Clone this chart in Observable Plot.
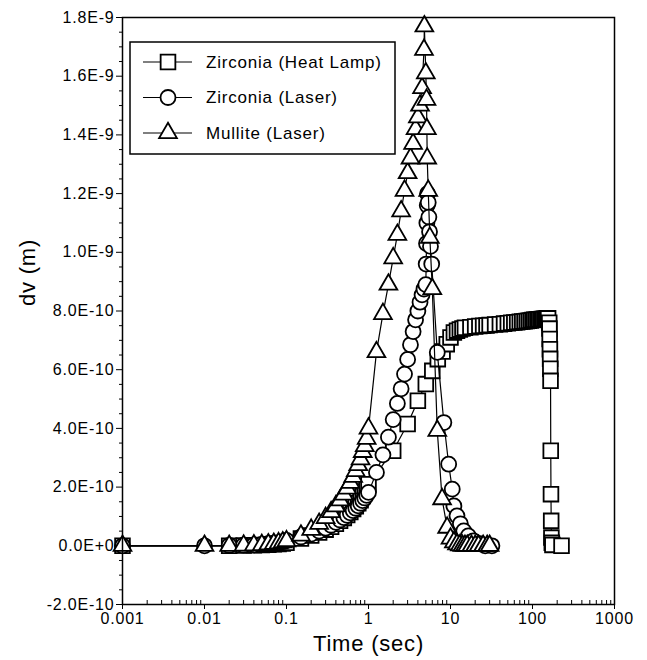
<!DOCTYPE html>
<html><head><meta charset="utf-8">
<script src="https://cdn.jsdelivr.net/npm/d3@7"></script>
<script src="https://cdn.jsdelivr.net/npm/@observablehq/plot@0.6"></script>
<style>
html,body{margin:0;padding:0;background:#fff;}
#chart svg text{letter-spacing:0.8px;}
</style></head><body><div id="chart"></div>
<script>
// ---- Data (time in s, dv in m) ----
const seriesNames = ["Zirconia (Heat Lamp)", "Zirconia (Laser)", "Mullite (Laser)"];

const lampTime = [0.001, 0.02, 0.03, 0.04, 0.05, 0.06, 0.07, 0.08, 0.09, 0.1,
  0.15, 0.2, 0.25, 0.3, 0.35, 0.4, 0.45, 0.5, 0.55, 0.6, 0.65, 0.7, 0.75, 0.8, 0.85, 0.9, 0.95,
  1, 2, 3, 4, 5, 6, 7, 8, 9, 10, 11, 12, 13, 14, 15, 17.5, 20, 22.5, 25, 27.5, 30,
  35, 40, 45, 50, 55, 60, 65, 70, 75, 80, 85, 90, 95, 100, 105, 110, 115, 120, 125, 130, 135, 140, 145, 150, 155,
  160, 161, 162, 163, 164, 165, 166, 167, 168, 169, 170, 172, 175, 226];
const lampDv = [0, 0, 1e-12, 2e-12, 3e-12, 4e-12, 5e-12, 6e-12, 8e-12, 1e-11,
  2.5e-11, 3.5e-11, 4.5e-11, 5.5e-11, 6.5e-11, 7.5e-11, 8.5e-11, 9.5e-11, 1.05e-10, 1.15e-10, 1.25e-10, 1.35e-10, 1.45e-10, 1.55e-10, 1.7e-10, 1.85e-10, 1.98e-10,
  2.1e-10, 3.24e-10, 4.15e-10, 4.94e-10, 5.51e-10, 5.96e-10, 6.36e-10, 6.62e-10, 6.87e-10, 7.1e-10, 7.27e-10, 7.33e-10, 7.37e-10, 7.4e-10, 7.43e-10, 7.45e-10, 7.47e-10, 7.49e-10, 7.5e-10, 7.51e-10, 7.52e-10,
  7.54e-10, 7.55e-10, 7.57e-10, 7.58e-10, 7.6e-10, 7.61e-10, 7.62e-10, 7.63e-10, 7.64e-10, 7.65e-10, 7.66e-10, 7.67e-10, 7.68e-10, 7.69e-10, 7.7e-10, 7.7e-10, 7.71e-10, 7.72e-10, 7.72e-10, 7.73e-10, 7.73e-10, 7.74e-10, 7.74e-10, 7.75e-10, 7.75e-10,
  7.6e-10, 7.4e-10, 7.05e-10, 6.7e-10, 6.37e-10, 6.03e-10, 5.62e-10, 3.24e-10, 1.76e-10, 8.5e-11, 2.8e-11, 1e-11, 3e-12, 0];

const laserTime = [0.001, 0.01, 0.02, 0.03, 0.04, 0.05, 0.06, 0.07, 0.08, 0.09, 0.1,
  0.15, 0.2, 0.25, 0.3, 0.35, 0.4, 0.45, 0.5, 0.55, 0.6, 0.65, 0.7, 0.75, 0.8, 0.85, 0.9, 0.95, 1.0,
  1.25, 1.5, 1.75, 2.0, 2.25, 2.5, 2.75, 3.0, 3.25, 3.5, 3.75, 4.0, 4.25, 4.5, 4.75, 5.0,
  5.05, 5.1, 5.15, 5.2, 5.25,
  5.35, 5.45, 5.55, 5.7, 5.9, 6.9, 8.3, 9.5, 10.5, 11, 12, 13.2, 14.5, 16.5, 19, 23, 26.5, 32];
const laserDv = [0, 0, 1e-12, 2e-12, 3e-12, 5e-12, 7e-12, 9e-12, 1.1e-11, 1.4e-11, 1.8e-11,
  3.0e-11, 4.0e-11, 5.0e-11, 6.0e-11, 7.0e-11, 8.0e-11, 8.8e-11, 9.6e-11, 1.04e-10, 1.12e-10, 1.2e-10, 1.28e-10, 1.36e-10, 1.45e-10, 1.54e-10, 1.63e-10, 1.72e-10, 1.82e-10,
  2.5e-10, 3.1e-10, 3.7e-10, 4.3e-10, 4.85e-10, 5.35e-10, 5.85e-10, 6.35e-10, 6.85e-10, 7.3e-10, 7.7e-10, 8.0e-10, 8.3e-10, 8.55e-10, 8.75e-10, 8.9e-10,
  9.6e-10, 1.03e-9, 1.1e-9, 1.16e-9, 1.2e-9,
  1.17e-9, 1.12e-9, 1.07e-9, 1.02e-9, 9.6e-10, 6.59e-10, 4.2e-10, 2.78e-10, 1.93e-10, 1.36e-10, 1.02e-10, 7.5e-11, 5.1e-11, 3.4e-11, 1.7e-11, 7e-12, 0, 0];

const mulliteTime = [0.001, 0.01, 0.02, 0.03, 0.04, 0.05, 0.06, 0.07, 0.08, 0.09, 0.1,
  0.15, 0.2, 0.25, 0.3, 0.35, 0.4, 0.45, 0.5, 0.55, 0.6, 0.65, 0.7, 0.75, 0.8, 0.85, 0.9, 0.95, 1.0,
  1.25, 1.5, 1.75, 2.0, 2.25, 2.5, 2.75, 3.0, 3.25, 3.5, 3.75, 4.0, 4.25, 4.5, 4.75, 4.8,
  5.0, 5.1, 5.15, 5.2, 5.35, 5.6, 6.0, 6.9, 7.9, 9.1, 10, 11, 12, 13, 14, 15, 16, 18, 20, 22, 25, 28, 30];
const mulliteDv = [0, 0, 0, 1e-12, 2e-12, 3e-12, 5e-12, 7e-12, 9e-12, 1.2e-11, 1.6e-11,
  3.5e-11, 5.5e-11, 7.5e-11, 9.5e-11, 1.15e-10, 1.35e-10, 1.55e-10, 1.75e-10, 1.95e-10, 2.15e-10, 2.35e-10, 2.55e-10, 2.75e-10, 2.95e-10, 3.2e-10, 3.4e-10, 3.65e-10, 4.0e-10,
  6.6e-10, 7.9e-10, 8.9e-10, 9.8e-10, 1.06e-9, 1.14e-9, 1.21e-9, 1.27e-9, 1.32e-9, 1.37e-9, 1.42e-9, 1.46e-9, 1.5e-9, 1.56e-9, 1.69e-9, 1.77e-9,
  1.61e-9, 1.52e-9, 1.42e-9, 1.32e-9, 1.21e-9, 1.05e-9, 8.75e-10, 3.92e-10, 1.59e-10, 6.2e-11, 2.5e-11, 1.2e-11, 5e-12, 2e-12, 0, 0, 0, 0, 0, 0, 0, 0, 0];

// ---- Tick labels ----
const xTicks = [0.001, 0.01, 0.1, 1, 10, 100, 1000];
const yTicks = [-2e-10, 0, 2e-10, 4e-10, 6e-10, 8e-10, 1e-9, 1.2e-9, 1.4e-9, 1.6e-9, 1.8e-9];

const xMinor = [];
xTicks.slice(0, -1).forEach(d => { for (let k = 2; k <= 9; k++) xMinor.push(d * k); });
const yMinor = d3.range(-40, 361, 10).map(k => k * 5e-12).filter(v => !yTicks.some(t => Math.abs(t - v) < 1e-13));

const zip = (ts, vs) => ts.map((t, i) => ({t, v: vs[i]}));
const lamp = zip(lampTime, lampDv);
const laser = zip(laserTime, laserDv);
const mullite = zip(mulliteTime, mulliteDv);

const R = {square: 8.3, circle: 7.5, triangle: 6.6};
const font = "'Liberation Sans', Arial, Helvetica, sans-serif";

const chart = Plot.plot({
  width: 647, height: 660,
  marginLeft: 122, marginRight: 33, marginTop: 17, marginBottom: 56,
  style: {fontFamily: font, fontSize: "16px", background: "white", color: "black"},
  x: {type: "log", domain: [0.001, 1000], label: null},
  y: {domain: [-2e-10, 1.8e-9], label: null},
  marks: [
    Plot.axisX({ticks: xTicks, tickSize: 5, tickPadding: 3, tickFormat: d => String(d), label: null, fontSize: 16}),
    Plot.axisX({ticks: xMinor, tickSize: -4, tickFormat: () => "", label: null}),
    Plot.axisY({ticks: yTicks, tickSize: 6, tickPadding: 2, tickFormat: d => d.toExponential(1).toUpperCase(), label: null, fontSize: 16}),
    Plot.axisY({ticks: yMinor, tickSize: 3, tickFormat: () => "", label: null}),
    Plot.line(lamp, {x: "t", y: "v", stroke: "black", strokeWidth: 1.2}),
    Plot.dot(lamp, {x: "t", y: "v", symbol: "square", r: R.square, fill: "white", stroke: "black", strokeWidth: 1.8}),
    Plot.line(laser, {x: "t", y: "v", stroke: "black", strokeWidth: 1.2}),
    Plot.dot(laser, {x: "t", y: "v", symbol: "circle", r: R.circle, fill: "white", stroke: "black", strokeWidth: 1.8}),
    Plot.line(mullite, {x: "t", y: "v", stroke: "black", strokeWidth: 1.2}),
    Plot.dot(mullite, {x: "t", y: "v", symbol: "triangle", r: R.triangle, fill: "white", stroke: "black", strokeWidth: 1.8}),
    Plot.frame({stroke: "black", strokeWidth: 1.5}),
    Plot.text(["Time (sec)"], {frameAnchor: "bottom", dy: 46, fontSize: 22, text: d => d}),
    Plot.text(["dv (m)"], {frameAnchor: "left", rotate: -90, dx: -95, dy: -5, fontSize: 22, text: d => d})
  ]
});
document.getElementById("chart").append(chart);

// ---- Legend ----
const svg = d3.select(chart);
const lg = svg.append("g").attr("font-family", font).attr("font-size", 17).attr("text-anchor", "start");
lg.append("rect").attr("x", 130).attr("y", 42).attr("width", 265).attr("height", 112)
  .attr("fill", "white").attr("stroke", "black").attr("stroke-width", 1.5);
const legendSymbols = [[d3.symbolSquare, R.square], [d3.symbolCircle, R.circle], [d3.symbolTriangle, R.triangle]];
seriesNames.forEach((name, i) => {
  const y = 62 + i * 35.5;
  lg.append("line").attr("x1", 143).attr("x2", 192).attr("y1", y).attr("y2", y)
    .attr("stroke", "black").attr("stroke-width", 1.2);
  const [sym, r] = legendSymbols[i];
  lg.append("path").attr("d", d3.symbol(sym, Math.PI * r * r)()).attr("transform", `translate(168,${y})`)
    .attr("fill", "white").attr("stroke", "black").attr("stroke-width", 1.8);
  lg.append("text").attr("x", 206).attr("y", y).attr("dy", "0.35em").attr("text-anchor", "start")
    .attr("fill", "black").text(name);
});
</script>
</body></html>
